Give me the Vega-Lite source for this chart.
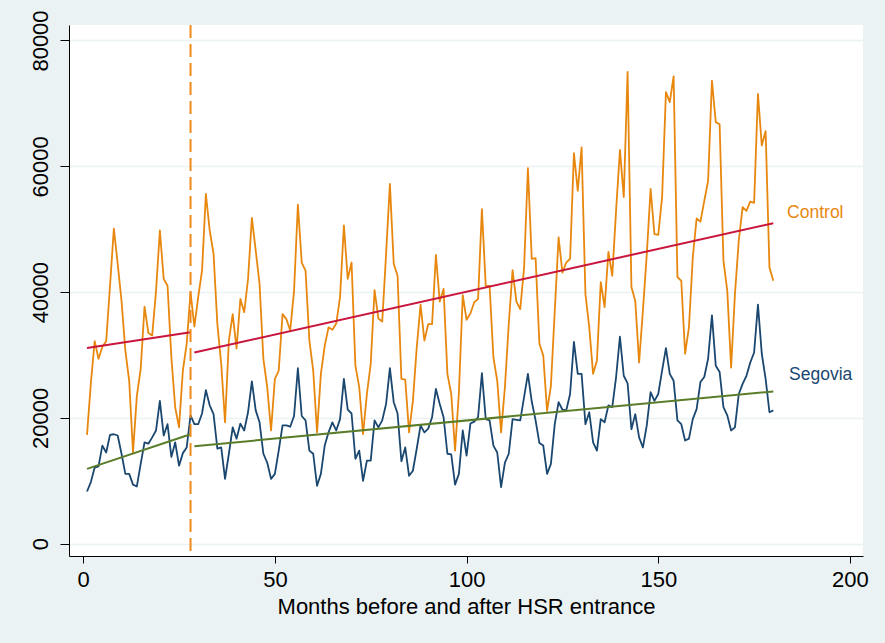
{
  "$schema": "https://vega.github.io/schema/vega-lite/v6.json",
  "width": 794,
  "height": 531,
  "autosize": {"type": "none"},
  "padding": {"left": 69, "top": 25, "right": 22, "bottom": 87},
  "background": "#EAF2F3",
  "config": {
    "view": {"fill": "white", "stroke": null},
    "font": "Liberation Sans",
    "axis": {
      "domainColor": "#000000",
      "domainWidth": 1,
      "tickColor": "#000000",
      "tickWidth": 1,
      "labelColor": "#000000",
      "labelFont": "Liberation Sans",
      "labelFontSize": 22,
      "titleFont": "Liberation Sans",
      "titleFontSize": 22,
      "titleFontWeight": "normal",
      "titleColor": "#000000",
      "gridColor": "#EAF2F3",
      "gridWidth": 1.5
    }
  },
  "datasets": {
    "series": [
      {"m":1,"Control":17300,"Segovia":8300},
      {"m":2,"Control":25500,"Segovia":9800},
      {"m":3,"Control":32200,"Segovia":12100},
      {"m":4,"Control":29400,"Segovia":12300},
      {"m":5,"Control":31300,"Segovia":15600},
      {"m":6,"Control":32200,"Segovia":14500},
      {"m":7,"Control":41000,"Segovia":17300},
      {"m":8,"Control":50100,"Segovia":17400},
      {"m":9,"Control":44500,"Segovia":17200},
      {"m":10,"Control":38600,"Segovia":14300},
      {"m":11,"Control":30700,"Segovia":11100},
      {"m":12,"Control":25900,"Segovia":11100},
      {"m":13,"Control":14500,"Segovia":9400},
      {"m":14,"Control":23500,"Segovia":9100},
      {"m":15,"Control":27800,"Segovia":12700},
      {"m":16,"Control":37700,"Segovia":16100},
      {"m":17,"Control":33500,"Segovia":15900},
      {"m":18,"Control":33100,"Segovia":16900},
      {"m":19,"Control":40200,"Segovia":18000},
      {"m":20,"Control":49800,"Segovia":22700},
      {"m":21,"Control":42100,"Segovia":17200},
      {"m":22,"Control":41000,"Segovia":19000},
      {"m":23,"Control":29600,"Segovia":13800},
      {"m":24,"Control":21700,"Segovia":16100},
      {"m":25,"Control":18500,"Segovia":12400},
      {"m":26,"Control":27500,"Segovia":14400},
      {"m":27,"Control":31800,"Segovia":15300},
      {"m":28,"Control":40000,"Segovia":20400},
      {"m":29,"Control":34500,"Segovia":19000},
      {"m":30,"Control":39200,"Segovia":19000},
      {"m":31,"Control":43400,"Segovia":20700},
      {"m":32,"Control":55600,"Segovia":24400},
      {"m":33,"Control":49800,"Segovia":22000},
      {"m":34,"Control":46100,"Segovia":20600},
      {"m":35,"Control":34900,"Segovia":15100},
      {"m":36,"Control":28600,"Segovia":15300},
      {"m":37,"Control":19300,"Segovia":10300},
      {"m":38,"Control":32300,"Segovia":14300},
      {"m":39,"Control":36500,"Segovia":18500},
      {"m":40,"Control":31000,"Segovia":16700},
      {"m":41,"Control":38900,"Segovia":19100},
      {"m":42,"Control":36800,"Segovia":18000},
      {"m":43,"Control":42100,"Segovia":20900},
      {"m":44,"Control":51800,"Segovia":25800},
      {"m":45,"Control":46600,"Segovia":21200},
      {"m":46,"Control":41300,"Segovia":19300},
      {"m":47,"Control":29400,"Segovia":14300},
      {"m":48,"Control":24900,"Segovia":12900},
      {"m":49,"Control":18000,"Segovia":10300},
      {"m":50,"Control":26200,"Segovia":11100},
      {"m":51,"Control":27500,"Segovia":14800},
      {"m":52,"Control":36500,"Segovia":18800},
      {"m":53,"Control":35700,"Segovia":18800},
      {"m":54,"Control":33900,"Segovia":18600},
      {"m":55,"Control":40200,"Segovia":20300},
      {"m":56,"Control":53900,"Segovia":27900},
      {"m":57,"Control":44700,"Segovia":20300},
      {"m":58,"Control":43400,"Segovia":19600},
      {"m":59,"Control":32300,"Segovia":14800},
      {"m":60,"Control":27500,"Segovia":14300},
      {"m":61,"Control":17700,"Segovia":9200},
      {"m":62,"Control":27000,"Segovia":11100},
      {"m":63,"Control":31500,"Segovia":15600},
      {"m":64,"Control":34400,"Segovia":17700},
      {"m":65,"Control":34000,"Segovia":19300},
      {"m":66,"Control":35000,"Segovia":18000},
      {"m":67,"Control":39200,"Segovia":19800},
      {"m":68,"Control":50600,"Segovia":26200},
      {"m":69,"Control":42100,"Segovia":21300},
      {"m":70,"Control":44700,"Segovia":20700},
      {"m":71,"Control":28300,"Segovia":13500},
      {"m":72,"Control":24900,"Segovia":14800},
      {"m":73,"Control":17400,"Segovia":10000},
      {"m":74,"Control":23800,"Segovia":13200},
      {"m":75,"Control":28600,"Segovia":13200},
      {"m":76,"Control":40300,"Segovia":19600},
      {"m":77,"Control":35800,"Segovia":18500},
      {"m":78,"Control":35300,"Segovia":19600},
      {"m":79,"Control":46000,"Segovia":22200},
      {"m":80,"Control":57200,"Segovia":27900},
      {"m":81,"Control":44500,"Segovia":22500},
      {"m":82,"Control":42600,"Segovia":20700},
      {"m":83,"Control":26200,"Segovia":13100},
      {"m":84,"Control":26100,"Segovia":15300},
      {"m":85,"Control":17700,"Segovia":10800},
      {"m":86,"Control":22700,"Segovia":11600},
      {"m":87,"Control":31200,"Segovia":15100},
      {"m":88,"Control":38000,"Segovia":18800},
      {"m":89,"Control":32300,"Segovia":17700},
      {"m":90,"Control":34900,"Segovia":18300},
      {"m":91,"Control":34900,"Segovia":20100},
      {"m":92,"Control":45900,"Segovia":24600},
      {"m":93,"Control":38500,"Segovia":22200},
      {"m":94,"Control":40500,"Segovia":20100},
      {"m":95,"Control":27000,"Segovia":14300},
      {"m":96,"Control":23800,"Segovia":14200},
      {"m":97,"Control":14800,"Segovia":9400},
      {"m":98,"Control":24000,"Segovia":11100},
      {"m":99,"Control":39500,"Segovia":18000},
      {"m":100,"Control":35600,"Segovia":14000},
      {"m":101,"Control":36600,"Segovia":19100},
      {"m":102,"Control":38400,"Segovia":19400},
      {"m":103,"Control":38900,"Segovia":20100},
      {"m":104,"Control":53200,"Segovia":27100},
      {"m":105,"Control":41000,"Segovia":19800},
      {"m":106,"Control":41000,"Segovia":19600},
      {"m":107,"Control":29600,"Segovia":15600},
      {"m":108,"Control":25900,"Segovia":14500},
      {"m":109,"Control":17700,"Segovia":9000},
      {"m":110,"Control":24900,"Segovia":12900},
      {"m":111,"Control":34900,"Segovia":14300},
      {"m":112,"Control":43500,"Segovia":19800},
      {"m":113,"Control":38500,"Segovia":19700},
      {"m":114,"Control":37300,"Segovia":19600},
      {"m":115,"Control":43900,"Segovia":23300},
      {"m":116,"Control":59700,"Segovia":27000},
      {"m":117,"Control":45300,"Segovia":22600},
      {"m":118,"Control":45400,"Segovia":19600},
      {"m":119,"Control":31800,"Segovia":16000},
      {"m":120,"Control":29900,"Segovia":15600},
      {"m":121,"Control":21100,"Segovia":11100},
      {"m":122,"Control":25100,"Segovia":12700},
      {"m":123,"Control":37000,"Segovia":19000},
      {"m":124,"Control":48700,"Segovia":22500},
      {"m":125,"Control":43100,"Segovia":21300},
      {"m":126,"Control":44700,"Segovia":21200},
      {"m":127,"Control":45300,"Segovia":23800},
      {"m":128,"Control":62100,"Segovia":32100},
      {"m":129,"Control":56100,"Segovia":27000},
      {"m":130,"Control":63000,"Segovia":27000},
      {"m":131,"Control":39700,"Segovia":19000},
      {"m":132,"Control":34400,"Segovia":20900},
      {"m":133,"Control":27000,"Segovia":16100},
      {"m":134,"Control":29100,"Segovia":14800},
      {"m":135,"Control":41600,"Segovia":19800},
      {"m":136,"Control":37600,"Segovia":19300},
      {"m":137,"Control":46400,"Segovia":22000},
      {"m":138,"Control":42600,"Segovia":21700},
      {"m":139,"Control":53000,"Segovia":26500},
      {"m":140,"Control":62600,"Segovia":32900},
      {"m":141,"Control":55100,"Segovia":26700},
      {"m":142,"Control":75000,"Segovia":25500},
      {"m":143,"Control":40800,"Segovia":18200},
      {"m":144,"Control":38600,"Segovia":20600},
      {"m":145,"Control":28800,"Segovia":16900},
      {"m":146,"Control":37100,"Segovia":15300},
      {"m":147,"Control":46000,"Segovia":18800},
      {"m":148,"Control":56400,"Segovia":24100},
      {"m":149,"Control":49200,"Segovia":22700},
      {"m":150,"Control":49100,"Segovia":23800},
      {"m":151,"Control":55100,"Segovia":27500},
      {"m":152,"Control":71800,"Segovia":31100},
      {"m":153,"Control":70200,"Segovia":27000},
      {"m":154,"Control":74300,"Segovia":25900},
      {"m":155,"Control":42400,"Segovia":19600},
      {"m":156,"Control":41800,"Segovia":19000},
      {"m":157,"Control":30200,"Segovia":16400},
      {"m":158,"Control":34400,"Segovia":16700},
      {"m":159,"Control":45500,"Segovia":19800},
      {"m":160,"Control":51700,"Segovia":21400},
      {"m":161,"Control":51200,"Segovia":25700},
      {"m":162,"Control":54500,"Segovia":26500},
      {"m":163,"Control":57700,"Segovia":29400},
      {"m":164,"Control":73600,"Segovia":36300},
      {"m":165,"Control":67000,"Segovia":28300},
      {"m":166,"Control":66700,"Segovia":27300},
      {"m":167,"Control":45000,"Segovia":21700},
      {"m":168,"Control":40200,"Segovia":20400},
      {"m":169,"Control":28000,"Segovia":18000},
      {"m":170,"Control":39700,"Segovia":18500},
      {"m":171,"Control":48200,"Segovia":23800},
      {"m":172,"Control":53500,"Segovia":25400},
      {"m":173,"Control":52900,"Segovia":26700},
      {"m":174,"Control":54400,"Segovia":28800},
      {"m":175,"Control":54200,"Segovia":30400},
      {"m":176,"Control":71500,"Segovia":38000},
      {"m":177,"Control":63300,"Segovia":30200},
      {"m":178,"Control":65600,"Segovia":26200},
      {"m":179,"Control":43900,"Segovia":20900},
      {"m":180,"Control":41800,"Segovia":21200}
    ],
    "fits": [
      {"m":1,"v":31100,"s":"Control fit","seg":"Cpre"},
      {"m":28,"v":33600,"s":"Control fit","seg":"Cpre"},
      {"m":29,"v":30400,"s":"Control fit","seg":"Cpost"},
      {"m":180,"v":50950,"s":"Control fit","seg":"Cpost"},
      {"m":1,"v":11900,"s":"Segovia fit","seg":"Spre"},
      {"m":28,"v":17400,"s":"Segovia fit","seg":"Spre"},
      {"m":29,"v":15500,"s":"Segovia fit","seg":"Spost"},
      {"m":180,"v":24200,"s":"Segovia fit","seg":"Spost"}
    ],
    "labels": [
      {"m":183.6,"v":52575,"s":"Control"},
      {"m":184.1,"v":26820,"s":"Segovia"}
    ],
    "event": [{"m":28}]
  },
  "encoding": {
    "x": {
      "field": "m",
      "type": "quantitative",
      "scale": {"domain": [-3.7, 203.4], "nice": false, "zero": false},
      "axis": {
        "values": [0, 50, 100, 150, 200],
        "title": "Months before and after HSR entrance",
        "grid": false,
        "tickSize": 7,
        "labelBaseline": "alphabetic",
        "labelPadding": 23,
        "titlePadding": 6,
        "labelFlush": false
      }
    },
    "y": {
      "field": "v",
      "type": "quantitative",
      "scale": {"domain": [-1955, 82464], "nice": false, "zero": false},
      "axis": {
        "values": [0, 20000, 40000, 60000, 80000],
        "format": "d",
        "title": null,
        "grid": true,
        "tickSize": 9,
        "labelAngle": 270,
        "labelAlign": "center",
        "labelBaseline": "alphabetic",
        "labelPadding": 13,
        "labelFlush": false
      }
    }
  },
  "layer": [
    {
      "data": {"name": "series"},
      "transform": [{"fold": ["Control", "Segovia"], "as": ["s", "v"]}],
      "mark": {"type": "line", "strokeWidth": 1.8, "strokeJoin": "round"},
      "encoding": {
        "color": {
          "field": "s",
          "type": "nominal",
          "scale": {"domain": ["Control", "Segovia", "Control fit", "Segovia fit"], "range": ["#E8870E", "#1A476F", "#C9163D", "#5A7D2A"]},
          "legend": null
        }
      }
    },
    {
      "data": {"name": "fits"},
      "mark": {"type": "line", "strokeWidth": 2},
      "encoding": {
        "detail": {"field": "seg", "type": "nominal"},
        "color": {
          "field": "s",
          "type": "nominal",
          "scale": {"domain": ["Control", "Segovia", "Control fit", "Segovia fit"], "range": ["#E8870E", "#1A476F", "#C9163D", "#5A7D2A"]},
          "legend": null
        }
      }
    },
    {
      "data": {"name": "event"},
      "mark": {"type": "rule", "color": "#EE8A1C", "strokeWidth": 2, "strokeDash": [13, 6]},
      "encoding": {"y": null}
    },
    {
      "data": {"name": "labels"},
      "mark": {"type": "text", "align": "left", "baseline": "middle", "fontSize": 17.5, "font": "Liberation Sans"},
      "encoding": {
        "text": {"field": "s", "type": "nominal"},
        "color": {
          "field": "s",
          "type": "nominal",
          "scale": {"domain": ["Control", "Segovia", "Control fit", "Segovia fit"], "range": ["#E8870E", "#1A476F", "#C9163D", "#5A7D2A"]},
          "legend": null
        }
      }
    }
  ]
}
